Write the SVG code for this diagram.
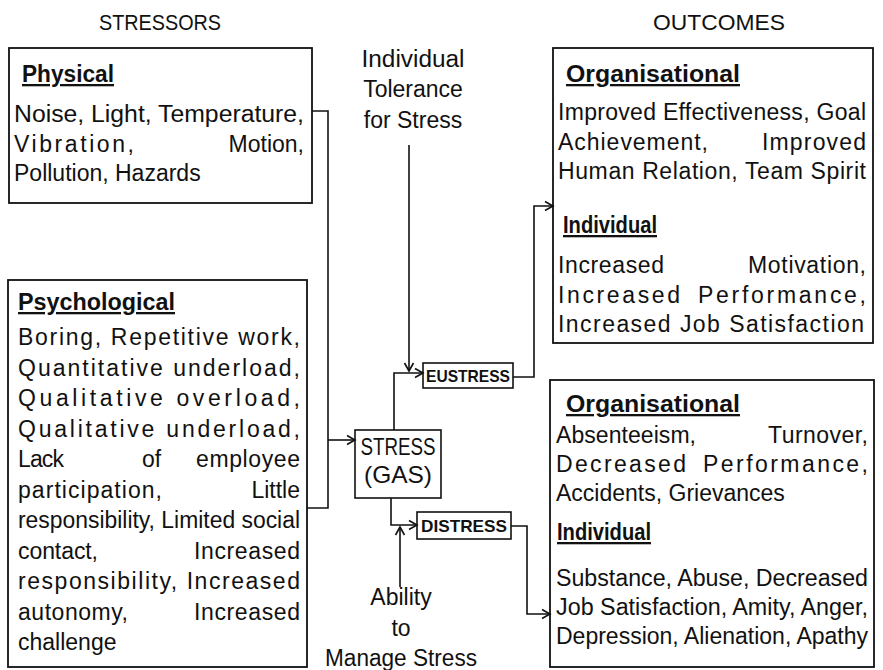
<svg xmlns="http://www.w3.org/2000/svg" width="883" height="670" viewBox="0 0 883 670">
<style>
text{font-family:"Liberation Sans","Noto Sans",sans-serif;fill:#111;}
.t{font-size:23px;}
.h{font-size:23px;font-weight:bold;text-decoration:underline;}
.title{font-size:22px;}
.c{text-anchor:middle;}
.e{text-anchor:end;}
.box{fill:#fff;stroke:#111;stroke-width:1.8;}
.sb{fill:#fff;stroke:#111;stroke-width:1.6;}
.con{fill:none;stroke:#111;stroke-width:1.6;}
.lbl{font-size:17px;font-weight:bold;}
</style>
<defs>
<marker id="arr" markerUnits="userSpaceOnUse" markerWidth="12" markerHeight="12" refX="10" refY="6" orient="auto">
<path d="M2,1.5 L10,6 L2,10.5" fill="none" stroke="#111" stroke-width="1.6"/>
</marker>
</defs>

<g id="titles">
<text class="title c" x="160" y="30" textLength="122" lengthAdjust="spacingAndGlyphs">STRESSORS</text>
<text class="title c" x="719" y="30" textLength="132" lengthAdjust="spacingAndGlyphs">OUTCOMES</text>
</g>

<g id="physical">
<rect class="box" x="9" y="48" width="303" height="155"/>
<text class="h" x="22" y="82" textLength="92" lengthAdjust="spacingAndGlyphs">Physical</text>
<text class="t" x="14" y="122" textLength="290" lengthAdjust="spacingAndGlyphs">Noise, Light, Temperature,</text>
<text class="t" x="14" y="152" textLength="120" lengthAdjust="spacing">Vibration,</text>
<text class="t e" x="304" y="152">Motion,</text>
<text class="t" x="14" y="181">Pollution, Hazards</text>
</g>

<g id="psychological">
<rect class="box" x="8" y="280" width="299" height="387"/>
<text class="h" x="18" y="310" textLength="157" lengthAdjust="spacingAndGlyphs">Psychological</text>
<text class="t" x="18" y="345" textLength="282" lengthAdjust="spacing">Boring, Repetitive work,</text>
<text class="t" x="18" y="375.5" textLength="282" lengthAdjust="spacing">Quantitative underload,</text>
<text class="t" x="18" y="406" textLength="282" lengthAdjust="spacing">Qualitative overload,</text>
<text class="t" x="18" y="436.5" textLength="282" lengthAdjust="spacing">Qualitative underload,</text>
<text class="t" x="18" y="467" textLength="46" lengthAdjust="spacing">Lack</text>
<text class="t" x="142" y="467">of</text>
<text class="t e" x="300" y="467" textLength="104" lengthAdjust="spacing">employee</text>
<text class="t" x="18" y="497.5" textLength="144" lengthAdjust="spacing">participation,</text>
<text class="t e" x="300" y="497.5">Little</text>
<text class="t" x="18" y="528" textLength="282" lengthAdjust="spacingAndGlyphs">responsibility, Limited social</text>
<text class="t" x="18" y="558.5" textLength="80" lengthAdjust="spacing">contact,</text>
<text class="t e" x="300" y="558.5" textLength="106" lengthAdjust="spacing">Increased</text>
<text class="t" x="18" y="589" textLength="282" lengthAdjust="spacing">responsibility, Increased</text>
<text class="t" x="18" y="619.5" textLength="110" lengthAdjust="spacing">autonomy,</text>
<text class="t e" x="300" y="619.5" textLength="106" lengthAdjust="spacing">Increased</text>
<text class="t" x="18" y="650">challenge</text>
</g>

<g id="tolerance">
<text class="t c" x="413" y="67" textLength="103" lengthAdjust="spacingAndGlyphs">Individual</text>
<text class="t c" x="413" y="97">Tolerance</text>
<text class="t c" x="413" y="128">for Stress</text>
</g>

<g id="ability">
<text class="t c" x="401" y="605">Ability</text>
<text class="t c" x="401" y="636">to</text>
<text class="t c" x="401" y="666" textLength="152" lengthAdjust="spacingAndGlyphs">Manage Stress</text>
</g>

<g id="stress">
<rect class="sb" x="355" y="430" width="86" height="68"/>
<text class="c" x="398" y="455" style="font-size:24px" textLength="75" lengthAdjust="spacingAndGlyphs">STRESS</text>
<text class="c" x="398" y="483" style="font-size:24px" textLength="68" lengthAdjust="spacingAndGlyphs">(GAS)</text>
</g>

<g id="eustress">
<rect class="sb" x="423" y="363" width="90" height="25"/>
<text class="lbl c" x="468" y="382" textLength="84" lengthAdjust="spacingAndGlyphs">EUSTRESS</text>
</g>

<g id="distress">
<rect class="sb" x="417" y="512" width="94" height="27"/>
<text class="lbl c" x="464" y="532" textLength="86" lengthAdjust="spacingAndGlyphs">DISTRESS</text>
</g>

<g id="positive-outcomes">
<rect class="box" x="553" y="48" width="320" height="295"/>
<text class="h" x="566" y="82" textLength="174" lengthAdjust="spacingAndGlyphs">Organisational</text>
<text class="t" x="558" y="120" textLength="308" lengthAdjust="spacing">Improved Effectiveness, Goal</text>
<text class="t" x="558" y="150" textLength="150" lengthAdjust="spacing">Achievement,</text>
<text class="t e" x="866" y="150" textLength="104" lengthAdjust="spacing">Improved</text>
<text class="t" x="558" y="179" textLength="308" lengthAdjust="spacing">Human Relation, Team Spirit</text>
<text class="h" x="563" y="233" textLength="94" lengthAdjust="spacingAndGlyphs">Individual</text>
<text class="t" x="558" y="273" textLength="106" lengthAdjust="spacing">Increased</text>
<text class="t e" x="866" y="273" textLength="118" lengthAdjust="spacing">Motivation,</text>
<text class="t" x="558" y="303" textLength="122" lengthAdjust="spacing">Increased</text>
<text class="t e" x="866" y="303" textLength="168" lengthAdjust="spacing">Performance,</text>
<text class="t" x="558" y="332" textLength="306" lengthAdjust="spacing">Increased Job Satisfaction</text>
</g>

<g id="negative-outcomes">
<rect class="box" x="550" y="380" width="324" height="287"/>
<text class="h" x="566" y="412" textLength="174" lengthAdjust="spacingAndGlyphs">Organisational</text>
<text class="t" x="556" y="443" textLength="140" lengthAdjust="spacing">Absenteeism,</text>
<text class="t e" x="868" y="443" textLength="100" lengthAdjust="spacing">Turnover,</text>
<text class="t" x="556" y="472" textLength="130" lengthAdjust="spacing">Decreased</text>
<text class="t e" x="868" y="472" textLength="165" lengthAdjust="spacing">Performance,</text>
<text class="t" x="556" y="501">Accidents, Grievances</text>
<text class="h" x="557" y="540" textLength="94" lengthAdjust="spacingAndGlyphs">Individual</text>
<text class="t" x="556" y="586" textLength="312" lengthAdjust="spacingAndGlyphs">Substance, Abuse, Decreased</text>
<text class="t" x="556" y="615" textLength="312" lengthAdjust="spacingAndGlyphs">Job Satisfaction, Amity, Anger,</text>
<text class="t" x="556" y="644" textLength="312" lengthAdjust="spacingAndGlyphs">Depression, Alienation, Apathy</text>
</g>

<g id="connectors">
<polyline class="con" points="312,111 328,111 328,508 307,508"/>
<line class="con" x1="328" y1="440" x2="355" y2="440" marker-end="url(#arr)"/>
<polyline class="con" points="394,430 394,373 423,373" marker-end="url(#arr)"/>
<line class="con" x1="409" y1="145" x2="409" y2="371" marker-end="url(#arr)"/>
<polyline class="con" points="513,377 534,377 534,206 553,206" marker-end="url(#arr)"/>
<polyline class="con" points="391,498 391,525 417,525" marker-end="url(#arr)"/>
<line class="con" x1="400" y1="587" x2="400" y2="527" marker-end="url(#arr)"/>
<polyline class="con" points="511,526 527,526 527,614 550,614" marker-end="url(#arr)"/>
</g>
</svg>
